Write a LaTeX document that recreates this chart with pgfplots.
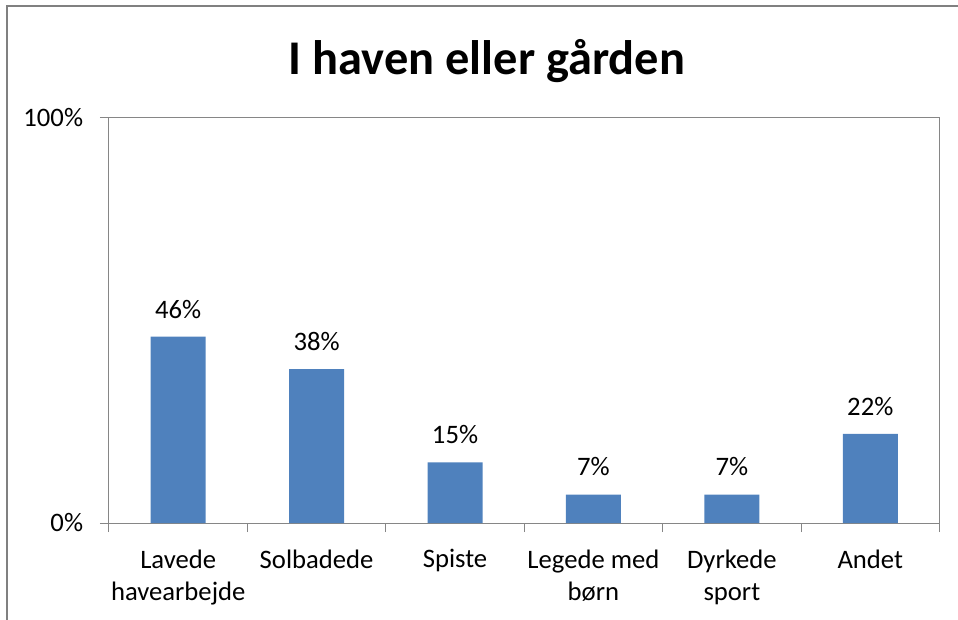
\documentclass[border=0pt]{standalone}
\usepackage{pgfplots}
\pgfplotsset{compat=1.18}
\usepackage{fontspec}
\setmainfont{Carlito}
\definecolor{barblue}{RGB}{79,129,189}
\definecolor{axisgray}{RGB}{134,134,134}
\definecolor{framegray}{RGB}{128,128,128}
\begin{document}
\begin{tikzpicture}
\useasboundingbox (0pt,0pt) rectangle (718.5pt,464.25pt);
\draw[line width=1.8pt, color=framegray] (5.25pt,-4pt) -- (5.25pt,459.75pt) -- (724pt,459.75pt);
\node[font=\fontsize{36.3}{44}\selectfont\bfseries, anchor=center] at (365.25pt,418.5pt) {I haven eller gården};
\begin{axis}[
  at={(81.75pt,72pt)}, anchor=south west,
  scale only axis, width=622.875pt, height=303.75pt,
  ymin=0, ymax=100, ytick={0,100}, yticklabels={0\%,100\%},
  xmin=-0.5, xmax=5.5,
  xtick={0,1,2,3,4,5},
  xticklabels={Lavede\\havearbejde, Solbadede, Spiste, Legede med\\børn, Dyrkede\\sport, Andet},
  minor xtick={-0.5,0.5,1.5,2.5,3.5,4.5,5.5},
  xtick pos=bottom, ytick pos=left,
  major x tick style={draw=none},
  minor x tick style={draw=axisgray, line width=0.75pt},
  y tick style={draw=axisgray, line width=0.75pt},
  tick align=outside,
  major tick length=6.75pt, minor tick length=6.75pt,
  axis line style={draw=axisgray, line width=0.75pt},
  /pgf/number format/assume math mode=true,
  tick label style={font=\fontsize{20}{24}\selectfont},
  xticklabel style={align=center, anchor=north, inner sep=0pt, yshift=-13pt},
  yticklabel style={anchor=east, inner sep=0pt, xshift=-12.5pt},
  ybar, bar width=41.25pt,
  nodes near coords={\pgfmathprintnumber{\pgfplotspointmeta}\%},
  every node near coord/.style={font=\fontsize{20}{24}\selectfont, anchor=base, inner sep=0pt, yshift=14pt},
  clip=false,
]
\addplot[fill=barblue, draw=none] coordinates {(0,46) (1,38) (2,15) (3,7) (4,7) (5,22)};
\end{axis}
\end{tikzpicture}
\end{document}
